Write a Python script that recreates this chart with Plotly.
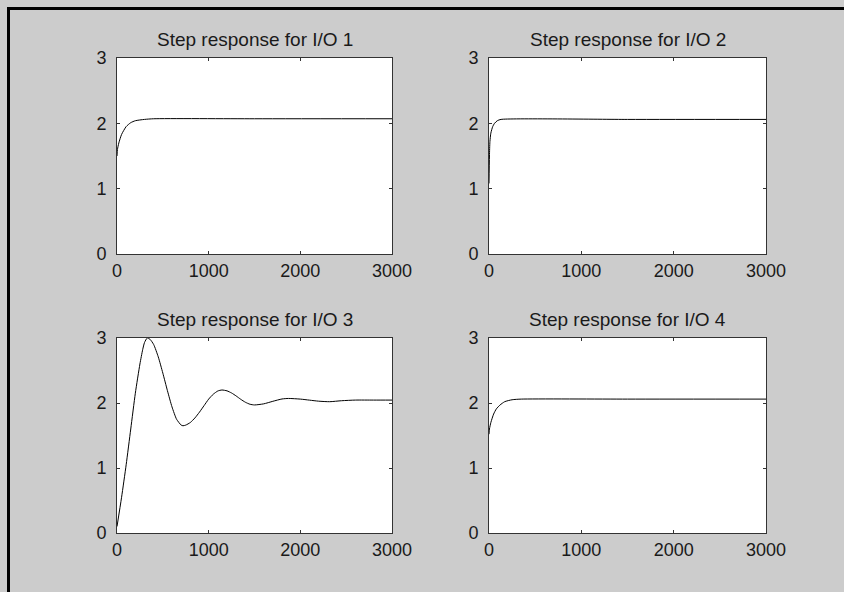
import plotly.graph_objects as go

# ---- data ----
titles = ["Step response for I/O 1", "Step response for I/O 2",
          "Step response for I/O 3", "Step response for I/O 4"]

t1 = [0, 5, 20, 50, 100, 150, 200, 300, 400, 1500, 3000]
y1 = [1.50, 1.60, 1.70, 1.83, 1.95, 2.01, 2.04, 2.06, 2.07, 2.07, 2.07]

t2 = [0, 5, 10, 20, 40, 60, 90, 130, 1500, 3000]
y2 = [1.08, 1.50, 1.72, 1.85, 1.95, 2.00, 2.04, 2.06, 2.06, 2.06]

t3 = [0, 50, 100, 150, 200, 250, 280, 300, 330, 360, 400, 450, 500, 550, 600,
      650, 700, 720, 750, 800, 850, 900, 950, 1000, 1050, 1100, 1145, 1200,
      1250, 1300, 1350, 1400, 1450, 1500, 1600, 1700, 1800, 1870, 2000, 2100,
      2200, 2320, 2450, 2600, 2800, 3000]
y3 = [0.10, 0.55, 1.05, 1.60, 2.15, 2.60, 2.82, 2.93, 3.00, 2.98, 2.90, 2.71,
      2.46, 2.19, 1.94, 1.75, 1.66, 1.65, 1.66, 1.70, 1.77, 1.86, 1.96, 2.06,
      2.135, 2.185, 2.20, 2.187, 2.154, 2.108, 2.057, 2.012, 1.981, 1.97,
      1.987, 2.026, 2.062, 2.07, 2.06, 2.044, 2.028, 2.02, 2.035, 2.045,
      2.045, 2.045]

t4 = [0, 5, 20, 50, 80, 120, 170, 250, 350, 1500, 3000]
y4 = [1.52, 1.60, 1.70, 1.83, 1.91, 1.97, 2.02, 2.05, 2.06, 2.06, 2.06]

x_ticks = [0, 1000, 2000, 3000]
y_ticks = [0, 1, 2, 3]

# ---- layout geometry ----
W, H = 844, 592
xdom = [[117 / W, 392 / W], [489 / W, 766 / W]]
ydom = [[1 - 254 / H, 1 - 58 / H], [1 - 533 / H, 1 - 338 / H]]
FONT = "Liberation Sans, Arial, sans-serif"

series = [(t1, y1), (t2, y2), (t3, y3), (t4, y4)]
fig = go.Figure()
annotations = []
for i, (tx, ty) in enumerate(series):
    row, col = divmod(i, 2)
    n = "" if i == 0 else str(i + 1)
    fig.add_trace(go.Scatter(x=tx, y=ty, mode="lines",
                             line=dict(color="black", width=1, shape="spline", smoothing=0.6),
                             xaxis="x" + n, yaxis="y" + n, showlegend=False,
                             hoverinfo="skip"))
    axcommon = dict(showgrid=False, zeroline=False, showline=True, automargin=False,
                    linecolor="#333333", linewidth=1, mirror="allticks",
                    ticks="inside", ticklen=3, tickcolor="#333333",
                    tickfont=dict(family=FONT, size=18, color="#1a1a1a"))
    fig.layout["xaxis" + n] = dict(domain=xdom[col], range=[0, 3000],
                                   tickvals=x_ticks, ticktext=[str(v) for v in x_ticks],
                                   anchor="y" + n, ticklabelstandoff=0, **axcommon)
    fig.layout["yaxis" + n] = dict(domain=ydom[row], range=[0, 3],
                                   tickvals=y_ticks, ticktext=[str(v) for v in y_ticks],
                                   anchor="x" + n, ticklabelstandoff=6, **axcommon)
    annotations.append(dict(text=titles[i], xref="paper", yref="paper",
                            x=(xdom[col][0] + xdom[col][1]) / 2, y=ydom[row][1],
                            xanchor="center", yanchor="bottom", yshift=6,
                            showarrow=False,
                            font=dict(family=FONT, size=19, color="#1a1a1a")))

# frame: black strips along the top and left edges; plain grey at the right edge
shapes = [
    dict(type="rect", xref="paper", yref="paper", x0=828 / W, x1=1,
         y0=0, y1=1 - 10 / H, fillcolor="#cccccc", line=dict(width=0), layer="above"),
    dict(type="rect", xref="paper", yref="paper", x0=7 / W, x1=1,
         y0=1 - 10 / H, y1=1 - 7 / H, fillcolor="black", line=dict(width=0)),
    dict(type="rect", xref="paper", yref="paper", x0=7 / W, x1=10 / W,
         y0=0, y1=1 - 7 / H, fillcolor="black", line=dict(width=0)),
]

fig.update_layout(width=W, height=H,
                  margin=dict(l=0, r=0, t=0, b=0, pad=0, autoexpand=False),
                  paper_bgcolor="#cccccc", plot_bgcolor="white",
                  showlegend=False,
                  annotations=annotations, shapes=shapes)

fig.write_html("out.html", config={"displayModeBar": False})
